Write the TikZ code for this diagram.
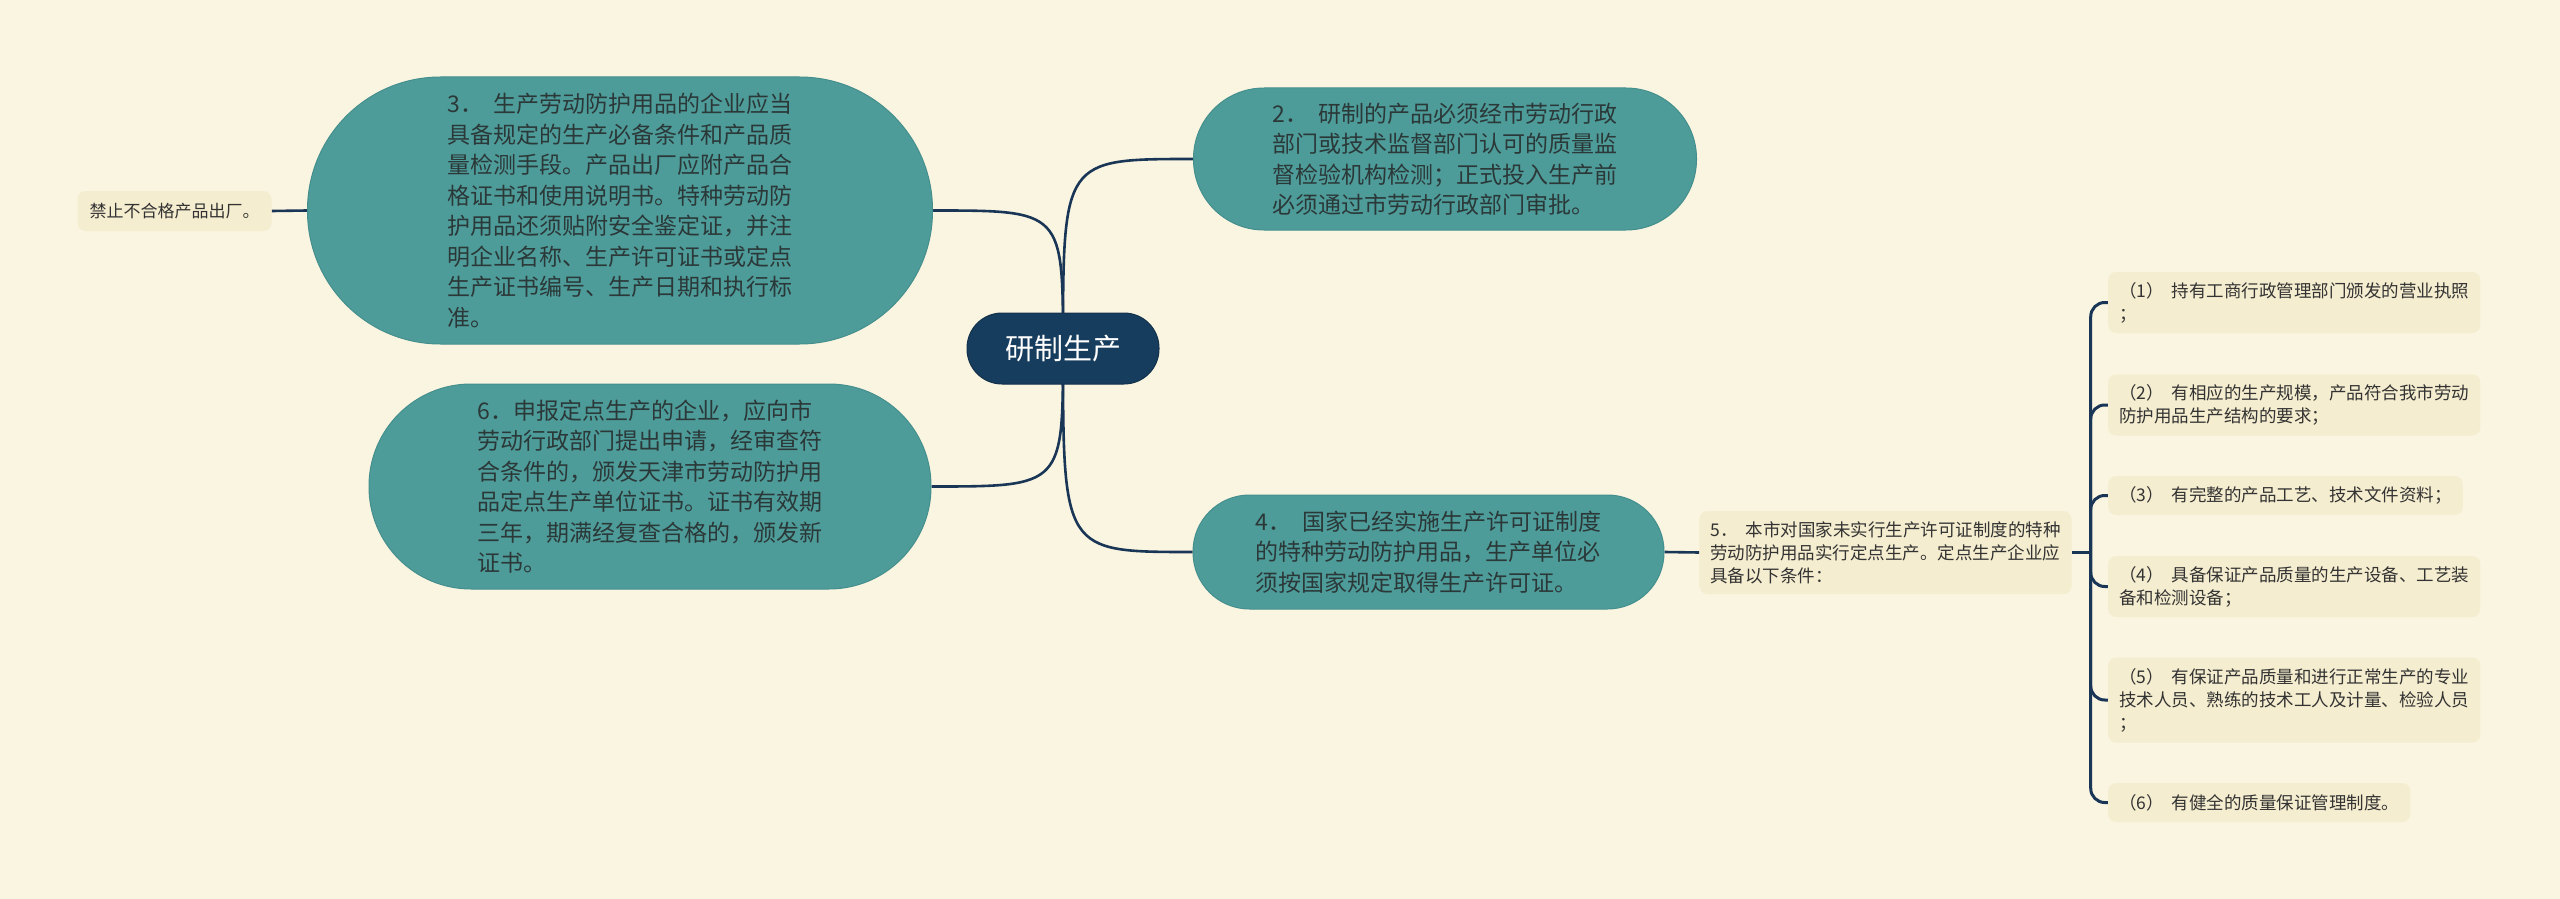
\documentclass[tikz,border=0pt]{standalone}
\usepackage{fontspec}
\setmainfont{Noto Sans CJK SC}
\usetikzlibrary{backgrounds}
\definecolor{bgc}{HTML}{FAF5E1}
\definecolor{tealf}{HTML}{4E9C9A}
\definecolor{tealb}{HTML}{448F8D}
\definecolor{navy}{HTML}{173D5E}
\definecolor{connc}{HTML}{1A3657}
\definecolor{lboxc}{HTML}{F5EDCF}
\definecolor{txa}{HTML}{2B3838}
\definecolor{txb}{HTML}{333333}
\begin{document}
\begin{tikzpicture}[x=1pt,y=-1pt,
  tnode/.style={fill=tealf,draw=tealb,line width=1pt,inner sep=0pt,align=left,text=txa,font=\fontsize{23}{30.5}\selectfont},
  lnode/.style={fill=lboxc,rounded corners=8pt,inner xsep=11pt,inner ysep=0pt,align=left,text=txb,font=\fontsize{17.5}{23}\selectfont},
  cline/.style={draw=connc,line width=2.6pt},
  bline/.style={draw=connc,line width=3pt,rounded corners=14pt},
]
\useasboundingbox (0,0) rectangle (2560,899);

\node[fill=navy,draw=navy!80!black,line width=1pt,rounded corners=35pt,minimum width=192pt,minimum height=71pt,inner sep=0pt,text=white,font=\fontsize{29}{34}\selectfont] (c) at (1063,348.5) {研制生产};

\node[tnode,minimum width=503pt,minimum height=142pt,rounded corners=70.5pt] (n2) at (1445,159) {2．\ \ 研制的产品必须经市劳动行政\\部门或技术监督部门认可的质量监\\督检验机构检测；正式投入生产前\\必须通过市劳动行政部门审批。};

\node[tnode,minimum width=625pt,minimum height=267pt,rounded corners=133pt] (n3) at (620,210.5) {3．\ \ 生产劳动防护用品的企业应当\\具备规定的生产必备条件和产品质\\量检测手段。产品出厂应附产品合\\格证书和使用说明书。特种劳动防\\护用品还须贴附安全鉴定证，并注\\明企业名称、生产许可证书或定点\\生产证书编号、生产日期和执行标\\准。};

\node[tnode,minimum width=562pt,minimum height=205pt,rounded corners=102pt] (n6) at (650,486.5) {6．申报定点生产的企业，应向市\\劳动行政部门提出申请，经审查符\\合条件的，颁发天津市劳动防护用\\品定点生产单位证书。证书有效期\\三年，期满经复查合格的，颁发新\\证书。};

\node[tnode,minimum width=471pt,minimum height=114pt,rounded corners=56.5pt] (n4) at (1428.5,552) {4．\ \ 国家已经实施生产许可证制度\\的特种劳动防护用品，生产单位必\\须按国家规定取得生产许可证。};

\node[lnode,inner xsep=12pt,minimum height=40pt,font=\fontsize{17}{22}\selectfont] (L) at (174.5,211) {禁止不合格产品出厂。};

\node[lnode,minimum height=83pt] (n5) at (1885.5,552.5) {5．\ \ 本市对国家未实行生产许可证制度的特种\\劳动防护用品实行定点生产。定点生产企业应\\具备以下条件：};

\node[lnode,anchor=west,minimum height=61pt] (k1) at (2108,302.5) {（1）\ \ 持有工商行政管理部门颁发的营业执照\\；};
\node[lnode,anchor=west,minimum height=61pt] (k2) at (2108,405) {（2）\ \ 有相应的生产规模，产品符合我市劳动\\防护用品生产结构的要求；};
\node[lnode,anchor=west,minimum height=39pt] (k3) at (2108,495.5) {（3）\ \ 有完整的产品工艺、技术文件资料；};
\node[lnode,anchor=west,minimum height=61pt] (k4) at (2108,586.5) {（4）\ \ 具备保证产品质量的生产设备、工艺装\\备和检测设备；};
\node[lnode,anchor=west,minimum height=85pt] (k5) at (2108,700) {（5）\ \ 有保证产品质量和进行正常生产的专业\\技术人员、熟练的技术工人及计量、检验人员\\；};
\node[lnode,anchor=west,minimum height=39pt] (k6) at (2108,802.5) {（6）\ \ 有健全的质量保证管理制度。};

\begin{pgfonlayer}{background}
\fill[bgc] (0,0) rectangle (2560,899);
\draw[cline] (c.center) .. controls (1063,159) .. (n2.west);
\draw[cline] (c.center) .. controls (1063,210.5) .. (n3.east);
\draw[cline] (c.center) .. controls (1063,486.5) .. (n6.east);
\draw[cline] (c.center) .. controls (1063,552) .. (n4.west);
\draw[cline] (L.east) -- (n3.west);
\draw[cline] (n4.east) -- (n5.west);
\draw[bline] (n5.east) -- ++(19,0) coordinate (br);
\draw[bline] (br) |- (k1.west);
\draw[bline] (br) |- (k2.west);
\draw[bline] (br) |- (k3.west);
\draw[bline] (br) |- (k4.west);
\draw[bline] (br) |- (k5.west);
\draw[bline] (br) |- (k6.west);
\end{pgfonlayer}
\end{tikzpicture}
\end{document}
